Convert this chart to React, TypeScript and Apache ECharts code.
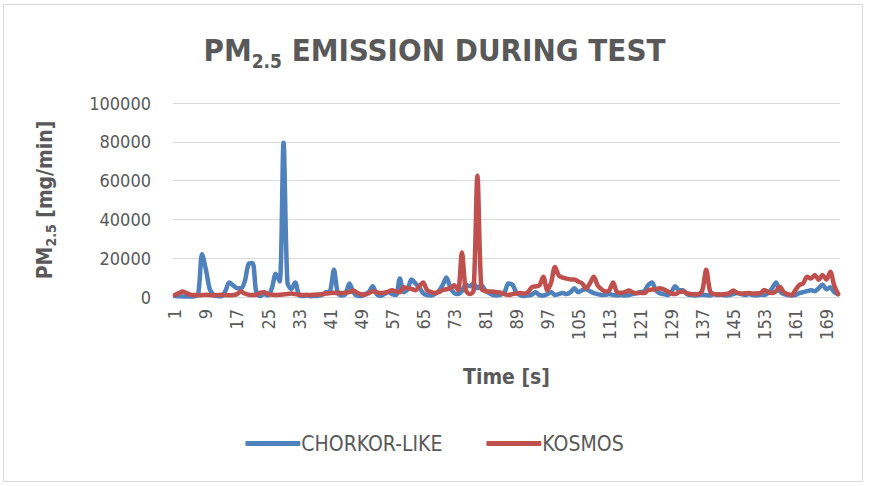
import React, { useEffect, useRef } from "react";
import * as echarts from "echarts";

const times: string[] = Array.from({ length: 172 }, (_, i) => String(i + 1));

const chorkorLike: number[] = [
  500, 400, 300, 200, 300, 400, 1500, 22000, 14000, 4000,
  1000, 500, 400, 3000, 7500, 6000, 4500, 4500, 8000, 17000,
  17500, 2000, 500, 1500, 800, 4500, 12000, 8000, 79500, 7500,
  4000, 7500, 1000, 500, 800, 400, 500, 600, 1200, 2500,
  3000, 14000, 2000, 800, 1500, 7000, 2500, 600, 500, 1500,
  2500, 5500, 1500, 600, 1500, 2500, 1500, 1000, 9500, 2500,
  4000, 9000, 7000, 5000, 2000, 1000, 800, 1500, 3000, 6000,
  10000, 5000, 2000, 1500, 3000, 6500, 5500, 7000, 4500, 6000,
  3500, 2000, 1000, 800, 1200, 2500, 7000, 6500, 2500, 1000,
  500, 800, 1200, 2500, 1000, 800, 1500, 2500, 1000, 1500,
  2000, 1500, 2500, 4500, 2500, 3500, 4000, 3000, 2000, 1500,
  1000, 1200, 1500, 1000, 800, 1000, 800, 1000, 1500, 2000,
  2500, 3000, 6000, 7500, 3500, 2000, 1500, 1000, 2500, 5500,
  3500, 3500, 1500, 1000, 800, 1000, 1200, 1000, 800, 1500,
  1000, 1200, 800, 1000, 1500, 2000, 1500, 1000, 1500, 1000,
  800, 1200, 1000, 2000, 4500, 7500, 3000, 1500, 1000, 800,
  1000, 2000, 2500, 3000, 3500, 3000, 4500, 6500, 4000, 5000,
  2500, 1500,
];

const kosmos: number[] = [
  1000, 2000, 2800, 2000, 1200, 1000, 900, 1000, 1100, 1000,
  900, 1000, 1100, 1000, 900, 1000, 1500, 2800, 1800, 1200,
  1000, 1100, 2200, 2500, 1500, 1200, 1000, 1100, 1300, 1500,
  1800, 1500, 1200, 1000, 1100, 1000, 1200, 1300, 1500, 1800,
  2000, 2200, 2000, 2000, 2200, 2500, 3300, 2200, 1400, 1200,
  2000, 3000, 2500, 2000, 2200, 2800, 3500, 2800, 2500, 5000,
  4500, 4200, 3500, 5500, 7500, 3600, 2500, 2000, 2500, 3500,
  4000, 4500, 6000, 3500, 23000, 3500, 1500, 3000, 62500, 4500,
  3000, 2800, 2800, 2500, 2200, 1500, 1000, 1500, 1800, 2000,
  1800, 2500, 5000, 5500, 6000, 10500, 3500, 7500, 15500, 11000,
  10000, 9500, 9000, 9000, 8000, 7000, 4500, 7000, 10500, 6000,
  4000, 2800, 3500, 7500, 2500, 2200, 2500, 3300, 2500, 1900,
  2200, 2000, 3500, 3800, 4000, 4500, 4000, 3000, 1900, 1500,
  2500, 2800, 2000, 1500, 1400, 1500, 3500, 14000, 3000, 1500,
  1400, 1300, 1500, 2000, 3300, 2200, 1800, 1900, 2000, 1800,
  1900, 2000, 3600, 2500, 2000, 3000, 5300, 2500, 1500, 1000,
  3500, 6200, 7000, 10500, 9500, 11400, 8800, 11400, 9000, 13000,
  6000, 1500,
];

const seriesNames = ["CHORKOR-LIKE", "KOSMOS"];
const seriesColors = ["#4F81BD", "#C0504D"];

const FONT = "'DejaVu Sans Condensed', sans-serif";
const GRAY = "#595959";

export default function App() {
  const ref = useRef<HTMLDivElement>(null);
  useEffect(() => {
    if (!ref.current) return;
    const chart = echarts.init(ref.current, null, { renderer: "svg" });
    chart.setOption({
      animation: false,
      backgroundColor: "#ffffff",
      textStyle: { fontFamily: FONT, color: GRAY },
      graphic: [
        {
          type: "rect",
          shape: { x: 3.5, y: 4.5, width: 859, height: 477 },
          style: { fill: "none", stroke: "#D9D9D9", lineWidth: 1 },
          silent: true,
        },
      ],
      title: {
        text: "{a|PM}{b|2.5}{a| EMISSION DURING TEST}",
        left: "center",
        top: 25,
        textStyle: {
          rich: {
            a: { fontFamily: FONT, fontSize: 31, fontWeight: "bold", color: GRAY, lineHeight: 40 },
            b: { fontFamily: FONT, fontSize: 19, fontWeight: "bold", color: GRAY, lineHeight: 40, padding: [22, 0, 0, 0] },
          },
        },
      },
      legend: {
        bottom: 27,
        left: "center",
        itemWidth: 55,
        itemHeight: 5,
        itemGap: 44,
        icon: "roundRect",
        textStyle: { fontFamily: FONT, fontSize: 21, color: GRAY, padding: [0, 0, 0, -4] },
        data: seriesNames,
      },
      grid: { left: 173, right: 29, top: 103, bottom: 189 },
      xAxis: {
        type: "category",
        data: times,
        boundaryGap: true,
        name: "Time [s]",
        nameLocation: "middle",
        nameGap: 69,
        nameTextStyle: { fontFamily: FONT, fontSize: 21, fontWeight: "bold", color: GRAY },
        axisLine: { show: true, lineStyle: { color: "#D9D9D9" } },
        axisTick: { show: false },
        axisLabel: { interval: 7, rotate: 90, margin: 12, fontSize: 18, color: GRAY, fontFamily: FONT },
      },
      yAxis: {
        type: "value",
        min: 0,
        max: 100000,
        interval: 20000,
        name: "{a|PM}{b|2.5}{a| [mg/min]}",
        nameLocation: "middle",
        nameRotate: 90,
        nameGap: 115,
        nameTextStyle: {
          rich: {
            a: { fontFamily: FONT, fontSize: 21, fontWeight: "bold", color: GRAY, lineHeight: 26 },
            b: { fontFamily: FONT, fontSize: 14, fontWeight: "bold", color: GRAY, lineHeight: 26, padding: [12, 0, 0, 0] },
          },
        },
        axisLine: { show: false },
        axisTick: { show: false },
        splitLine: { lineStyle: { color: "#D9D9D9", width: 1 } },
        axisLabel: {
          fontSize: 18,
          color: GRAY,
          margin: 22,
          fontFamily: FONT,
          formatter: (v: number) => String(v),
        },
      },
      series: [
        {
          name: seriesNames[0],
          type: "line",
          data: chorkorLike,
          smooth: 0.3,
          showSymbol: false,
          symbol: "none",
          lineStyle: { width: 4.5, color: seriesColors[0], cap: "round", join: "round" },
          itemStyle: { color: seriesColors[0] },
        },
        {
          name: seriesNames[1],
          type: "line",
          data: kosmos,
          smooth: 0.3,
          showSymbol: false,
          symbol: "none",
          lineStyle: { width: 4.5, color: seriesColors[1], cap: "round", join: "round" },
          itemStyle: { color: seriesColors[1] },
        },
      ],
    });
    return () => chart.dispose();
  }, []);
  return (
    <div
      ref={ref}
      style={{ position: "fixed", left: 0, top: 0, width: 869, height: 486 }}
    />
  );
}
